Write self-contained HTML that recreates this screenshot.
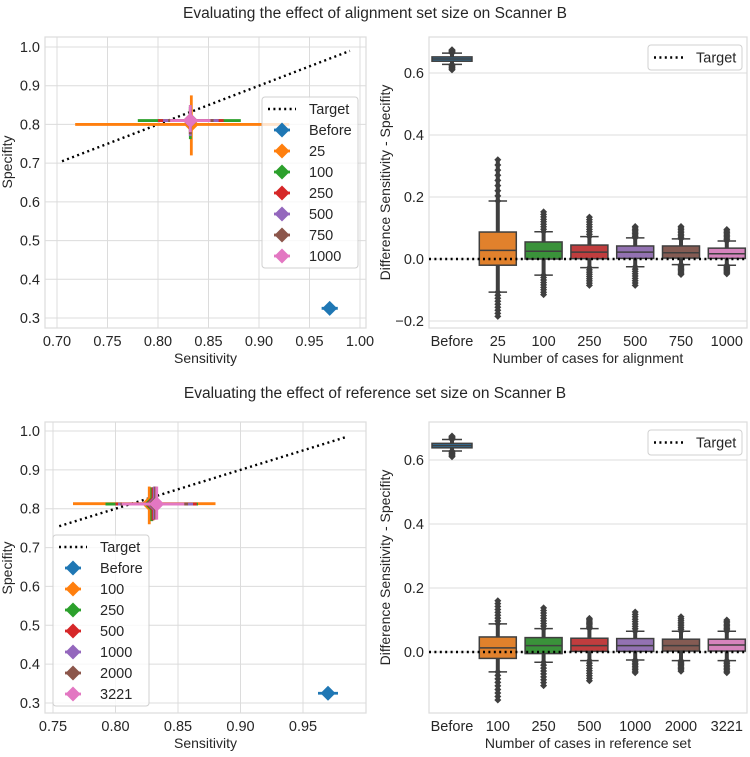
<!DOCTYPE html>
<html><head><meta charset="utf-8"><style>
body{margin:0;background:#fff;}
svg text{font-family:"Liberation Sans",sans-serif;fill:#262626;}
</style></head><body>
<svg id="fig" width="750" height="752" viewBox="0 0 750 752" xmlns="http://www.w3.org/2000/svg">
<text x="375" y="18" font-size="15.5" text-anchor="middle">Evaluating the effect of alignment set size on Scanner B</text>
<text x="375" y="398" font-size="15.5" text-anchor="middle">Evaluating the effect of reference set size on Scanner B</text>
</svg>
<script>
const colors=['#1f77b4','#ff7f0e','#2ca02c','#d62728','#9467bd','#8c564b','#e377c2'];
const boxColors=['#3274a1','#e1812c','#3a923a','#c03d3e','#9372b2','#845b53','#d684bd'];
// Top scatter
const topLabels=['Before','25','100','250','500','750','1000'];
const topSens=[0.970,0.833,0.832,0.832,0.832,0.832,0.832];
const topSpec=[0.325,0.800,0.810,0.810,0.810,0.810,0.810];
const topSensLo=[0.962,0.718,0.780,0.800,0.805,0.810,0.812];
const topSensHi=[0.978,0.930,0.882,0.865,0.860,0.855,0.852];
const topSpecLo=[0.320,0.720,0.762,0.775,0.770,0.775,0.780];
const topSpecHi=[0.330,0.875,0.850,0.840,0.845,0.845,0.850];
// Bottom scatter
const botLabels=['Before','100','250','500','1000','2000','3221'];
const botSens=[0.970,0.827,0.829,0.830,0.831,0.832,0.833];
const botSpec=[0.325,0.813,0.812,0.812,0.812,0.812,0.812];
const botSensLo=[0.962,0.766,0.792,0.800,0.802,0.804,0.805];
const botSensHi=[0.978,0.880,0.866,0.865,0.862,0.858,0.855];
const botSpecLo=[0.320,0.760,0.768,0.770,0.772,0.772,0.772];
const botSpecHi=[0.330,0.857,0.855,0.855,0.857,0.857,0.857];
// Top boxplots
const topCats=['Before','25','100','250','500','750','1000'];
const topQ1=[0.638,-0.020,0.000,0.001,0.002,0.003,0.002];
const topMed=[0.645,0.028,0.025,0.022,0.022,0.020,0.017];
const topQ3=[0.652,0.087,0.055,0.045,0.042,0.042,0.035];
const topWLo=[0.628,-0.107,-0.052,-0.028,-0.025,-0.018,-0.020];
const topWHi=[0.664,0.187,0.088,0.072,0.068,0.065,0.058];
const topFLo=[0.610,-0.185,-0.115,-0.085,-0.085,-0.050,-0.048];
const topFHi=[0.675,0.320,0.152,0.135,0.105,0.105,0.095];
// Bottom boxplots
const botCats=['Before','100','250','500','1000','2000','3221'];
const botQ1=[0.638,-0.020,-0.005,0.002,0.002,0.003,0.003];
const botMed=[0.645,0.013,0.020,0.020,0.020,0.020,0.022];
const botQ3=[0.652,0.047,0.045,0.043,0.042,0.040,0.040];
const botWLo=[0.628,-0.062,-0.032,-0.027,-0.025,-0.027,-0.027];
const botWHi=[0.664,0.088,0.073,0.073,0.065,0.065,0.065];
const botFLo=[0.610,-0.150,-0.105,-0.090,-0.065,-0.060,-0.065];
const botFHi=[0.675,0.160,0.138,0.105,0.125,0.110,0.100];
const topXTicks=[0.70,0.75,0.80,0.85,0.90,0.95,1.00];
const botXTicks=[0.75,0.80,0.85,0.90,0.95];
const scYTicks=[0.3,0.4,0.5,0.6,0.7,0.8,0.9,1.0];
const boxYTicks=[-0.2,0.0,0.2,0.4,0.6];
const boxYTicksB=[0.0,0.2,0.4,0.6];

const svg=document.getElementById('fig');
const NS='http://www.w3.org/2000/svg';
function mk(tag,attrs,parent){const e=document.createElementNS(NS,tag);for(const k in attrs)e.setAttribute(k,attrs[k]);(parent||svg).appendChild(e);return e;}
function txt(s,attrs,parent){const e=mk('text',attrs,parent);e.textContent=s;return e;}
function diamond(g,cx,cy,r,fill){return mk('path',{d:`M${cx} ${cy-r}L${cx+r} ${cy}L${cx} ${cy+r}L${cx-r} ${cy}Z`,fill:fill},g);}
const TF=14.5, AF=14;

function scatter(o){
  const g=mk('g',{});
  
  
  const X=v=>o.x0+(v-o.xv0)/(o.xv1-o.xv0)*(o.x1-o.x0);
  const Y=v=>o.y0+(v-o.yv0)/(o.yv1-o.yv0)*(o.y1-o.y0);
  mk('rect',{x:o.fx0,y:o.fy0,width:o.fx1-o.fx0,height:o.fy1-o.fy0,fill:'#fff',stroke:'#dcdcdc','stroke-width':1.2},g);
  o.xt.forEach(t=>{mk('line',{x1:X(t),x2:X(t),y1:o.fy0,y2:o.fy1,stroke:'#dcdcdc'},g);
    const l=txt(t.toFixed(2),{x:X(t),y:o.fy1+18,'font-size':TF,'text-anchor':'middle'},g);
    });
  o.yt.forEach(t=>{mk('line',{x1:o.fx0,x2:o.fx1,y1:Y(t),y2:Y(t),stroke:'#dcdcdc'},g);
    const l=txt(t.toFixed(1),{x:o.fx0-5,y:Y(t)+5,'font-size':TF,'text-anchor':'end'},g);
    });
  const xl=txt('Sensitivity',{x:(o.fx0+o.fx1)/2,y:o.fy1+35,'font-size':AF,'text-anchor':'middle'},g);
  
  const yl=txt('Specifity',{x:0,y:0,'font-size':AF,'text-anchor':'middle',transform:`translate(12,${o.ytY}) rotate(-90)`},g);
  
  const tl=mk('line',{x1:X(o.t0),y1:Y(o.t0),x2:X(o.t1),y2:Y(o.t1),stroke:'#000','stroke-width':2.4,'stroke-dasharray':'2 3.4'},g);
  
  for(let i=0;i<o.sens.length;i++){
    const p=mk('g',{},g);
    
    
    mk('line',{x1:X(o.sLo[i]),x2:X(o.sHi[i]),y1:Y(o.sp[i]),y2:Y(o.sp[i]),stroke:colors[i],'stroke-width':2.8},p);
    mk('line',{x1:X(o.sens[i]),x2:X(o.sens[i]),y1:Y(o.pLo[i]),y2:Y(o.pHi[i]),stroke:colors[i],'stroke-width':2.8},p);
    diamond(p,X(o.sens[i]),Y(o.sp[i]),7.5,colors[i]);
  }
  const lg=mk('g',{},g);
  
  mk('rect',{x:o.lx,y:o.ly,width:96,height:171,rx:3,fill:'#fff','fill-opacity':0.8,stroke:'#d0d0d0'},lg);
  mk('line',{x1:o.lx+6,x2:o.lx+34,y1:o.ly+12,y2:o.ly+12,stroke:'#000','stroke-width':2.4,'stroke-dasharray':'2 3.4'},lg);
  txt('Target',{x:o.lx+47,y:o.ly+17,'font-size':TF},lg);
  o.labels.forEach((s,i)=>{const cy=o.ly+33+i*21;
    const e=mk('g',{},lg);
    mk('line',{x1:o.lx+12,x2:o.lx+28,y1:cy,y2:cy,stroke:colors[i],'stroke-width':2.8},e);
    diamond(e,o.lx+20,cy,7.5,colors[i]);
    txt(s,{x:o.lx+47,y:cy+5,'font-size':TF},e);});
}
scatter({name:'top-scatter',fx0:45,fx1:366,fy0:37,fy1:328,x0:57,x1:360,xv0:0.70,xv1:1.00,y0:318,y1:47,yv0:0.3,yv1:1.0,
  xt:topXTicks,yt:scYTicks,t0:0.705,t1:0.99,labels:topLabels,sens:topSens,sp:topSpec,sLo:topSensLo,sHi:topSensHi,pLo:topSpecLo,pHi:topSpecHi,lx:262,ly:97,ytY:162});
scatter({name:'bottom-scatter',fx0:45,fx1:366,fy0:422,fy1:713,x0:53,x1:303,xv0:0.75,xv1:0.95,y0:703,y1:431,yv0:0.3,yv1:1.0,
  xt:botXTicks,yt:scYTicks,t0:0.755,t1:0.985,labels:botLabels,sens:botSens,sp:botSpec,sLo:botSensLo,sHi:botSensHi,pLo:botSpecLo,pHi:botSpecHi,lx:53,ly:535,ytY:568});

function boxplot(o){
  const g=mk('g',{});
  
  const Y=v=>o.y0+(v-o.yv0)/(o.yv1-o.yv0)*(o.y1-o.y0);
  const X=i=>452+i*45.8;
  mk('rect',{x:o.fx0,y:o.fy0,width:o.fx1-o.fx0,height:o.fy1-o.fy0,fill:'#fff',stroke:'#dcdcdc','stroke-width':1.2},g);
  o.yt.forEach(t=>{mk('line',{x1:o.fx0,x2:o.fx1,y1:Y(t),y2:Y(t),stroke:'#dcdcdc'},g);
    const l=txt((t<0?'\u22120.2':t.toFixed(1)),{x:o.fx0-5,y:Y(t)+5,'font-size':TF,'text-anchor':'end'},g);
    });
  o.cats.forEach((c,i)=>{const l=txt(c,{x:X(i),y:o.fy1+18,'font-size':TF,'text-anchor':'middle'},g);
    });
  const xl=txt(o.xlabel,{x:(o.fx0+o.fx1)/2,y:o.fy1+35,'font-size':AF,'text-anchor':'middle'},g);
  
  const yl=txt('Difference Sensitivity - Specifity',{x:0,y:0,'font-size':AF,'text-anchor':'middle',transform:`translate(390,${(o.fy0+o.fy1)/2}) rotate(-90)`},g);
  
  o.cats.forEach((c,i)=>{
    const b=mk('g',{},g);
    const cx=X(i),w=(i==0?40:37);
    mk('line',{x1:cx,x2:cx,y1:Y(o.fLo[i]),y2:Y(o.fHi[i]),stroke:'#3f3f3f','stroke-width':4},b);
    for(let k=0;k<=8;k++){const v1=o.wHi[i]+(o.fHi[i]-o.wHi[i])*k/8,v2=o.wLo[i]+(o.fLo[i]-o.wLo[i])*k/8;
      diamond(b,cx,Y(v1),3.5,'#3f3f3f');diamond(b,cx,Y(v2),3.5,'#3f3f3f');}
    mk('line',{x1:cx-w/4,x2:cx+w/4,y1:Y(o.wHi[i]),y2:Y(o.wHi[i]),stroke:'#3f3f3f','stroke-width':1.5},b);
    mk('line',{x1:cx-w/4,x2:cx+w/4,y1:Y(o.wLo[i]),y2:Y(o.wLo[i]),stroke:'#3f3f3f','stroke-width':1.5},b);
    mk('rect',{x:cx-w/2,y:Y(o.q3[i]),width:w,height:Math.max(1,Y(o.q1[i])-Y(o.q3[i])),fill:boxColors[i],stroke:'#3f3f3f','stroke-width':1.5},b);
    mk('line',{x1:cx-w/2,x2:cx+w/2,y1:Y(o.med[i]),y2:Y(o.med[i]),stroke:'#3f3f3f','stroke-width':1.5},b);
  });
  const tl=mk('line',{x1:o.fx0,x2:o.fx1,y1:Y(0),y2:Y(0),stroke:'#000','stroke-width':2.4,'stroke-dasharray':'2 3.4'},g);
  
  const lg=mk('g',{},g);
  mk('rect',{x:648,y:o.fy0+8,width:94,height:25,rx:3,fill:'#fff',stroke:'#d0d0d0'},lg);
  mk('line',{x1:654,x2:683,y1:o.fy0+20.5,y2:o.fy0+20.5,stroke:'#000','stroke-width':2.4,'stroke-dasharray':'2 3.4'},lg);
  txt('Target',{x:696,y:o.fy0+25.5,'font-size':TF},lg);
}
boxplot({name:'top-boxplot',fx0:429,fx1:747,fy0:37,fy1:328,y0:259,y1:73,yv0:0,yv1:0.6,yt:boxYTicks,cats:topCats,
  q1:topQ1,med:topMed,q3:topQ3,wLo:topWLo,wHi:topWHi,fLo:topFLo,fHi:topFHi,xlabel:'Number of cases for alignment'});
boxplot({name:'bottom-boxplot',fx0:429,fx1:747,fy0:422,fy1:713,y0:652,y1:460,yv0:0,yv1:0.6,yt:boxYTicksB,cats:botCats,
  q1:botQ1,med:botMed,q3:botQ3,wLo:botWLo,wHi:botWHi,fLo:botFLo,fHi:botFHi,xlabel:'Number of cases in reference set'});
</script>
</body></html>
